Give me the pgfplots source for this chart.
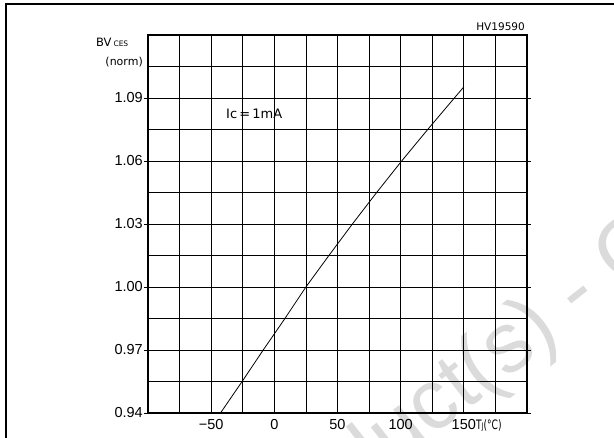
\documentclass[border=0pt]{standalone}
\usepackage{pgfplots}
\pgfplotsset{compat=1.18}
\usepackage{fontspec}
\setmainfont{DejaVu Sans}
\newfontfamily\arialfont{Liberation Sans}
\pgfdeclarelayer{background}
\pgfsetlayers{background,main}

\begin{document}
\begin{tikzpicture}[x=1pt,y=1pt]
\begin{axis}[
  at={(0,0)}, anchor=south west,
  scale only axis, width=379pt, height=378pt,
  xmin=-100, xmax=200, ymin=0.94, ymax=1.12,
  xtick={-50,0,50,100,150},
  xticklabels={−50,0,50,100,150},
  minor xtick={-100,-75,...,200},
  ytick={0.94,0.97,1.00,1.03,1.06,1.09},
  yticklabels={0.94,0.97,1.00,1.03,1.06,1.09},
  minor ytick={0.955,0.985,1.015,1.045,1.075,1.105},
  grid=both,
  major grid style={black, line width=0.8pt},
  minor grid style={black, line width=0.8pt},
  axis line style={line width=1.6pt},
  tick align=outside,
  major tick length=4pt, minor tick length=0pt,
  xtick style={draw=none},
  ytick style={black, line width=0.8pt},
  tick label style={font=\arialfont\fontsize{14.5}{15}\selectfont},
  yticklabel style={inner sep=1pt},
  xticklabel style={inner sep=2pt},
]
\addplot[black, line width=0.8pt] coordinates {
  (-42.6,0.94) (-25.5,0.955) (-8.8,0.97) (8.4,0.985) (25,1.00)
  (43.2,1.015) (61.8,1.03) (81,1.045) (100.8,1.06) (121.4,1.075)
  (142.5,1.09) (150,1.0953)
};
\coordinate (LL) at (rel axis cs:0,0);
\end{axis}

\pgfresetboundingbox
% page coordinates: plot box lower-left sits at (148,25)
\begin{scope}[shift={(LL)}, shift={(-148,-25)}]
\useasboundingbox (0,0) rectangle (614,438);
% background stamp
\begin{pgfonlayer}{background}
\begin{scope}[gray!28]
\node[rotate=38, anchor=base east, inner sep=0pt, font=\arialfont\fontsize{85}{85}\selectfont] at (603,134) {Obsolete Product(s) -};
\node[rotate=38, anchor=base west, inner sep=0pt, font=\arialfont\fontsize{85}{85}\selectfont] at (603,134) {\ Obsolete Product(s)};
\end{scope}
\end{pgfonlayer}
% page frame
\draw[line width=2pt] (6,-30) -- (6,434) -- (660,434);
% labels
\node[anchor=base east, inner sep=0pt, font=\fontsize{10.5}{11}\selectfont] at (525,407) {HV19590};
\node[anchor=base west, inner sep=0pt, font=\fontsize{11.5}{12}\selectfont] at (96,391) {BV\,{\fontsize{7.5}{8}\selectfont CES}};
\node[anchor=base east, inner sep=0pt, font=\fontsize{11}{12}\selectfont] at (143,372) {(norm)};
\node[anchor=base west, inner sep=0pt, font=\fontsize{13}{14}\selectfont] at (226,319) {Ic\,=\,1mA};
\node[anchor=base west, inner sep=0pt] at (476,8) {\scalebox{0.7}[1]{\fontsize{13}{13}\selectfont T{\fontsize{9}{9}\selectfont J}(°C)}};
\end{scope}
\end{tikzpicture}
\end{document}
